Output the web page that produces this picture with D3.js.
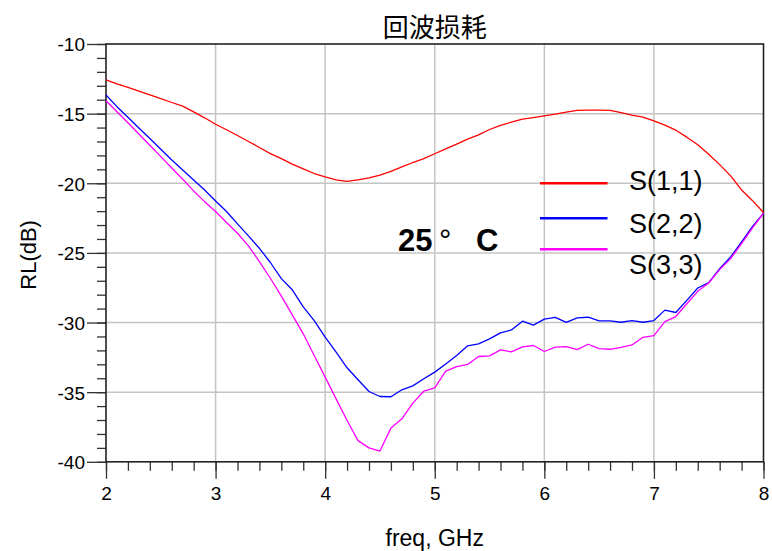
<!DOCTYPE html>
<html>
<head>
<meta charset="utf-8">
<script src="https://cdn.jsdelivr.net/npm/d3@7"></script>
<style>
  html, body { margin: 0; padding: 0; background: #fff; }
  svg { display: block; }
  text { font-family: "Liberation Sans", Arial, sans-serif; fill: #000; }
</style>
</head>
<body>
<svg id="chart" width="772" height="551"></svg>
<script>
// Frequency sweep, 2 – 8 GHz in 0.1 GHz steps
const freq = d3.range(0, 61).map(i => +(2 + i * 0.1).toFixed(1));

// Return loss per port (dB)
const s11 = [
  -12.57, -12.86, -13.12, -13.38, -13.65, -13.93, -14.20, -14.46, -14.87, -15.30,
  -15.76, -16.16, -16.57, -17.00, -17.43, -17.87, -18.23, -18.63, -18.97, -19.30,
  -19.54, -19.76, -19.86, -19.76, -19.62, -19.42, -19.14, -18.82, -18.51, -18.23,
  -17.88, -17.53, -17.19, -16.83, -16.52, -16.14, -15.85, -15.61, -15.40, -15.28,
  -15.16, -15.04, -14.89, -14.77, -14.75, -14.75, -14.77, -14.92, -15.11, -15.25,
  -15.52, -15.83, -16.19, -16.69, -17.24, -17.91, -18.66, -19.47, -20.48, -21.25,
  -22.10
];
const s22 = [
  -13.66, -14.50, -15.26, -16.03, -16.79, -17.56, -18.33, -19.04, -19.76, -20.48,
  -21.27, -22.03, -22.92, -23.78, -24.67, -25.69, -26.85, -27.65, -28.88, -29.86,
  -31.05, -32.13, -33.25, -34.11, -34.95, -35.31, -35.33, -34.83, -34.55, -34.04,
  -33.56, -32.97, -32.37, -31.67, -31.53, -31.17, -30.74, -30.53, -29.90, -30.19,
  -29.76, -29.63, -29.99, -29.67, -29.62, -29.88, -29.88, -29.98, -29.86, -29.98,
  -29.86, -29.11, -29.28, -28.41, -27.52, -27.14, -26.13, -25.29, -24.20, -23.10,
  -22.15
];
const s33 = [
  -14.07, -14.86, -15.65, -16.46, -17.27, -18.09, -18.90, -19.71, -20.55, -21.32,
  -22.03, -22.82, -23.59, -24.50, -25.62, -26.82, -28.10, -29.45, -30.81, -32.37,
  -33.92, -35.48, -37.03, -38.48, -39.00, -39.23, -37.58, -36.91, -35.79, -34.93,
  -34.69, -33.49, -33.16, -33.01, -32.44, -32.39, -31.96, -32.11, -31.75, -31.65,
  -32.08, -31.77, -31.73, -31.95, -31.56, -31.88, -31.92, -31.78, -31.61, -31.06,
  -30.94, -29.93, -29.57, -28.65, -27.76, -27.16, -26.20, -25.41, -24.33, -23.20,
  -22.15
];

const seriesNames = ["S(1,1)", "S(2,2)", "S(3,3)"];
const seriesColors = ["#ff0000", "#0000ff", "#ff00ff"];
const seriesValues = [s11, s22, s33];

const xTicks = [2, 3, 4, 5, 6, 7, 8];
const yTicks = [-10, -15, -20, -25, -30, -35, -40];

const titleText = "回波损耗";
const xLabel = "freq, GHz";
const yLabel = "RL(dB)";
const noteText = "25° C";

const svg = d3.select("#chart");
const plotLeft = 106, plotRight = 763.5, plotTop = 44, plotBottom = 461.8;

const x = d3.scaleLinear().domain([2, 8]).range([plotLeft, plotRight]);
const y = d3.scaleLinear().domain([-40, -10]).range([plotBottom, plotTop]);

// grid
const grid = svg.append("g").attr("stroke", "#c4c4c4").attr("stroke-width", 1.5);
grid.selectAll("line.v").data(xTicks.slice(1, -1)).join("line").attr("class", "v")
  .attr("x1", d => x(d)).attr("x2", d => x(d))
  .attr("y1", plotTop).attr("y2", plotBottom);
grid.selectAll("line.h").data(yTicks.slice(1, -1)).join("line").attr("class", "h")
  .attr("x1", plotLeft).attr("x2", plotRight)
  .attr("y1", d => y(d)).attr("y2", d => y(d));

// minor ticks
const xMinor = d3.range(0, 31).map(i => +(2 + i * 0.2).toFixed(1));
const yMinor = d3.range(-40, -9, 1);
svg.append("g").attr("transform", `translate(0,${plotBottom})`)
  .call(d3.axisBottom(x).tickValues(xMinor).tickSize(9).tickFormat(""))
  .call(g => g.select(".domain").remove())
  .call(g => g.selectAll("line").attr("stroke", "#333").attr("stroke-width", 1.3));
svg.append("g").attr("transform", `translate(${plotLeft},0)`)
  .call(d3.axisLeft(y).tickValues(yMinor).tickSize(9).tickFormat(""))
  .call(g => g.select(".domain").remove())
  .call(g => g.selectAll("line").attr("stroke", "#333").attr("stroke-width", 1.3));

// major axes (plain hyphen-minus labels)
const plainNum = d => String(d);
const xAxis = svg.append("g").attr("transform", `translate(0,${plotBottom})`)
  .call(d3.axisBottom(x).tickValues(xTicks).tickSize(17).tickPadding(8).tickFormat(plainNum));
const yAxis = svg.append("g").attr("transform", `translate(${plotLeft},0)`)
  .call(d3.axisLeft(y).tickValues(yTicks).tickSize(19).tickPadding(2).tickFormat(plainNum));
[xAxis, yAxis].forEach(a => {
  a.select(".domain").remove();
  a.selectAll("line").attr("stroke", "#333").attr("stroke-width", 1.3);
  a.selectAll("text").attr("font-size", 19).attr("font-family", "Liberation Sans, Arial, sans-serif").attr("fill", "#000");
});
yAxis.selectAll("text").attr("dy", "0.36em");

// frame
svg.append("rect")
  .attr("x", plotLeft).attr("y", plotTop)
  .attr("width", plotRight - plotLeft).attr("height", plotBottom - plotTop)
  .attr("fill", "none").attr("stroke", "#222").attr("stroke-width", 1.6);

// curves
const line = d3.line().x((d, i) => x(freq[i])).y(d => y(d));
svg.append("g").selectAll("path").data(seriesValues).join("path")
  .attr("d", d => line(d))
  .attr("fill", "none")
  .attr("stroke", (d, i) => seriesColors[i])
  .attr("stroke-width", 1.3)
  .attr("stroke-linejoin", "round");

// legend
const legendLineY = [183.3, 218.2, 249.3];
const legendTextY = [189.5, 232.7, 274.2];
const legend = svg.append("g");
seriesNames.forEach((name, i) => {
  legend.append("line")
    .attr("x1", 540).attr("x2", 607.5)
    .attr("y1", legendLineY[i]).attr("y2", legendLineY[i])
    .attr("stroke", seriesColors[i]).attr("stroke-width", 2.4);
  legend.append("text")
    .attr("x", 629).attr("y", legendTextY[i])
    .attr("font-size", 27)
    .text(name);
});

// temperature note
const note = svg.append("text")
  .attr("y", 251)
  .attr("font-size", 31)
  .attr("font-weight", "bold");
note.append("tspan").attr("x", 398).text(noteText.slice(0, 2));
note.append("tspan").attr("x", 439).attr("font-weight", "normal").text(noteText.slice(2, 3));
note.append("tspan").attr("x", 476).text(noteText.slice(4));

// titles
svg.append("text")
  .attr("x", (plotLeft + plotRight) / 2).attr("y", 37)
  .attr("text-anchor", "middle")
  .attr("font-size", 26)
  .style("font-family", "'Noto Sans CJK SC', sans-serif")
  .text(titleText);
svg.append("text")
  .attr("x", (plotLeft + plotRight) / 2).attr("y", 546)
  .attr("text-anchor", "middle")
  .attr("font-size", 23)
  .text(xLabel);
svg.append("text")
  .attr("transform", `translate(36,${(plotTop + plotBottom) / 2 + 2}) rotate(-90)`)
  .attr("text-anchor", "middle")
  .attr("font-size", 22)
  .text(yLabel);
</script>
</body>
</html>
